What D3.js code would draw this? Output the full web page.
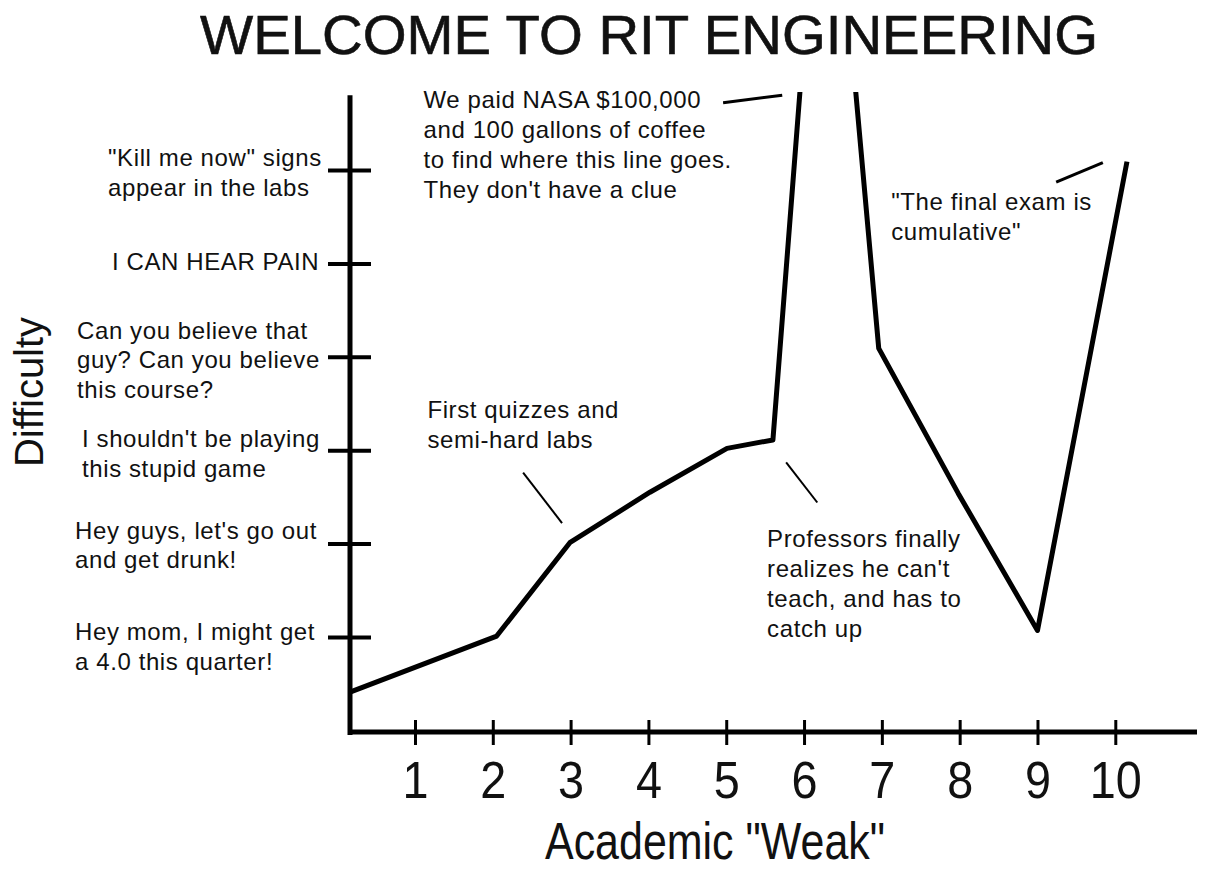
<!DOCTYPE html>
<html><head><meta charset="utf-8">
<script src="https://cdn.jsdelivr.net/npm/d3@7"></script>
<style>
html,body{margin:0;padding:0;background:#fff;}
svg{display:block;}
text{font-family:"Liberation Sans", Arial, sans-serif;fill:#111;}
</style></head>
<body>
<svg id="chart" width="1211" height="871"></svg>
<script>
// ---------- data ----------
const title = "WELCOME TO RIT ENGINEERING";
const xTitle = 'Academic "Weak"';
const yTitle = "Difficulty";
const weekTicks = [1,2,3,4,5,6,7,8,9,10];
const difficultyTicks = [1,2,3,4,5,6];
const difficultyLabels = [
  ["Hey mom, I might get", "a 4.0 this quarter!"],
  ["Hey guys, let's go out", "and get drunk!"],
  ["I shouldn't be playing", "this stupid game"],
  ["Can you believe that", "guy?  Can you believe", "this course?"],
  ["I CAN HEAR PAIN"],
  ["\"Kill me now\" signs", "appear in the labs"]
];
const weeks =      [0.165, 2.05, 2.99, 4.02, 5.01, 5.60, 6.28, 6.96, 7.98, 9.00, 10.15];
const difficulty = [0.41,  1.01, 2.01, 2.55, 3.02, 3.11, 10.41, 4.09, 2.54, 1.07, 6.09];
const noteText = [
  ["We paid NASA $100,000", "and 100 gallons of coffee", "to find where this line goes.", "They don't have a clue"],
  ["First quizzes and", "semi-hard labs"],
  ["Professors finally", "realizes he can't", "teach, and has to", "catch up"],
  ["\"The final exam is", "cumulative\""]
];
const noteWeek = [1.11, 1.16, 5.525, 7.12];
const noteDifficulty = [6.664, 3.346, 1.964, 5.571];
const pointerFrom = [[4.96, 6.72], [2.39, 2.76], [5.77, 2.87], [9.24, 5.87]];
const pointerTo   = [[5.72, 6.80], [2.89, 2.22], [6.17, 2.44], [9.84, 6.08]];

// ---------- layout ----------
const svg = d3.select("#chart");
const x = d3.scaleLinear().domain([0.165, 11.05]).range([350, 1197]);
const y = d3.scaleLinear().domain([0, 6.8]).range([730.4, 95.3]);
const xAxisY = 732;

// title
svg.append("text").attr("x", 649).attr("y", 54).attr("text-anchor", "middle")
  .attr("font-size", 56).attr("textLength", 898).attr("lengthAdjust", "spacingAndGlyphs")
  .attr("stroke", "#111").attr("stroke-width", 0.6)
  .text(title);

// clip for the line (goes off the top)
svg.append("clipPath").attr("id", "clip").append("rect")
  .attr("x", 0).attr("y", 92).attr("width", 1211).attr("height", 800);

// x axis
const xAxis = svg.append("g").attr("transform", `translate(0,${xAxisY})`)
  .call(d3.axisBottom(x).tickValues(weekTicks).tickSizeOuter(0).tickSizeInner(0).tickPadding(0));
xAxis.select(".domain").attr("stroke", "#000").attr("stroke-width", 5).attr("d", `M348,0H1197`);
xAxis.selectAll(".tick line").attr("stroke", "#000").attr("stroke-width", 3).attr("y1", -12).attr("y2", 13);
xAxis.selectAll(".tick text").attr("font-size", 52).attr("y", 66).attr("dy", 0)
  .attr("font-family", "Liberation Sans, Arial, sans-serif").attr("fill", "#111")
  .attr("textLength", d => String(d).length * 26).attr("lengthAdjust", "spacingAndGlyphs");

// y axis
const yAxis = svg.append("g").attr("transform", "translate(350,0)")
  .call(d3.axisLeft(y).tickValues(difficultyTicks).tickFormat("").tickSizeOuter(0).tickSizeInner(0));
yAxis.select(".domain").attr("stroke", "#000").attr("stroke-width", 5).attr("d", `M0,${y(6.8)}V735`);
yAxis.selectAll(".tick line").attr("stroke", "#000").attr("stroke-width", 4).attr("x1", -22).attr("x2", 21);

// y tick labels (multi-line)
const labelX = [75, 75, 82, 77, 112, 108];
const labelDy = [3, -5, -3, -18, 7, -4];
difficultyLabels.forEach((lines, i) => {
  const t = svg.append("text").attr("font-size", 24).attr("letter-spacing", 0.6);
  lines.forEach((ln, j) => {
    t.append("tspan").attr("x", labelX[i]).attr("y", y(difficultyTicks[i]) + labelDy[i] + j * 29.5).text(ln);
  });
});

// axis titles
svg.append("text").attr("transform", "translate(43,392) rotate(-90)").attr("text-anchor", "middle")
  .attr("font-size", 40).attr("textLength", 150).attr("lengthAdjust", "spacingAndGlyphs").text(yTitle);
svg.append("text").attr("x", 715).attr("y", 859).attr("text-anchor", "middle")
  .attr("font-size", 52).attr("textLength", 340).attr("lengthAdjust", "spacingAndGlyphs").text(xTitle);

// the line
const pts = weeks.map((w, i) => [w, difficulty[i]]);
svg.append("path").datum(pts).attr("clip-path", "url(#clip)")
  .attr("fill", "none").attr("stroke", "#000").attr("stroke-width", 5).attr("stroke-linejoin", "round")
  .attr("d", d3.line().x(d => x(d[0])).y(d => y(d[1])));

// annotations
noteText.forEach((lines, i) => {
  const t = svg.append("text").attr("font-size", 24).attr("letter-spacing", 0.6);
  lines.forEach((ln, j) => {
    t.append("tspan").attr("x", x(noteWeek[i])).attr("y", y(noteDifficulty[i]) + j * 30).text(ln);
  });
});
const pw = [3, 2, 2, 3];
pointerFrom.forEach((p, i) => {
  svg.append("line").attr("x1", x(p[0])).attr("y1", y(p[1]))
    .attr("x2", x(pointerTo[i][0])).attr("y2", y(pointerTo[i][1]))
    .attr("stroke", "#000").attr("stroke-width", pw[i]);
});
</script>
</body></html>
